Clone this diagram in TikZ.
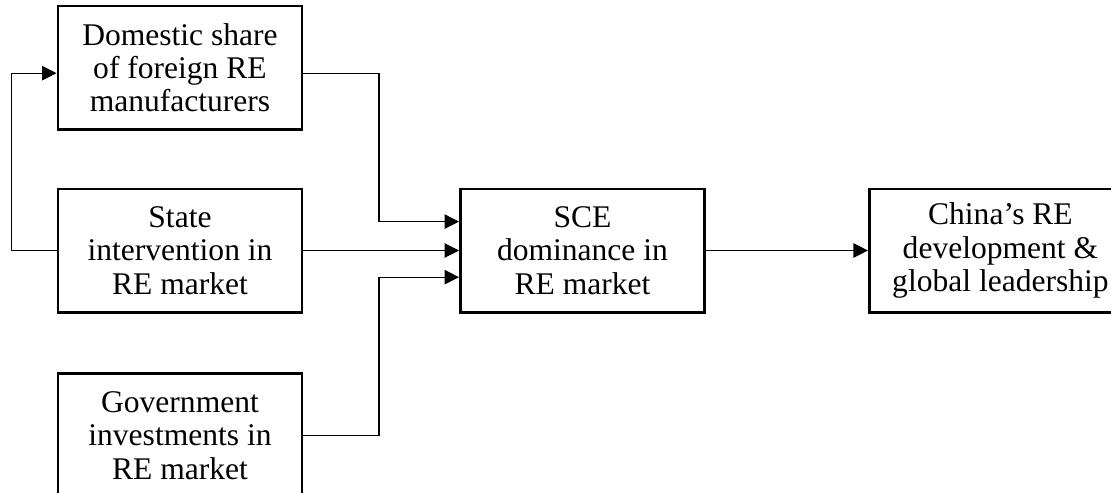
\documentclass[tikz,border=0pt]{standalone}
\usepackage{fontspec}
\setmainfont{Liberation Serif}
\usepackage{tikz}
\usetikzlibrary{
	positioning,   %定位
	arrows.meta,   %箭头
	calc
}
\tikzset{
	every picture/.style={
		>={Triangle[length=6.5pt,width=6.5pt]},
		x=0.45pt, y=-0.45pt
}}

\begin{document}
\begin{tikzpicture}
\tikzstyle{box}=[rectangle, draw=black, line width=1.3pt, minimum width=109.8pt, minimum height=55.4pt, align=center, inner sep=2pt, font=\fontsize{14.2}{15}\selectfont]
\tikzstyle{connect}=[->, line width=0.5pt]
\useasboundingbox (0,0) rectangle (1111,493);
\clip (0,0) rectangle (1111,493);
\node[box] (state) at (180,250.5) {State\\intervention in\\RE market};
\node[box] (dom) [above=25.6pt of state] {Domestic share\\of foreign RE\\manufacturers};
\node[box] (gov) [below=26.5pt of state] {Government\\investments in\\RE market};
\node[box] (sce) [right=70pt of state] {SCE\\dominance in\\RE market};
\node[box, minimum width=118pt, inner xsep=0pt] (china) [right=72.9pt of sce] {China's RE\\development \&\\global leadership};
\coordinate (jx) at (379,0);
\coordinate (in1) at ([yshift=13pt]sce.west);
\coordinate (in3) at ([yshift=-12pt]sce.west);
\draw[connect] ([yshift=-2.5pt]dom.east) -| (jx |- in1) -- (in1);
\draw[connect] (state.east) -- (sce.west);
\draw[connect] (gov.east) -| (jx |- in3) -- (in3);
\draw[connect] (state.west) -- ++(-45,0) |- ([yshift=-2.5pt]dom.west);
\draw[connect] (sce.east) -- (china.west);
\end{tikzpicture}
\end{document}
